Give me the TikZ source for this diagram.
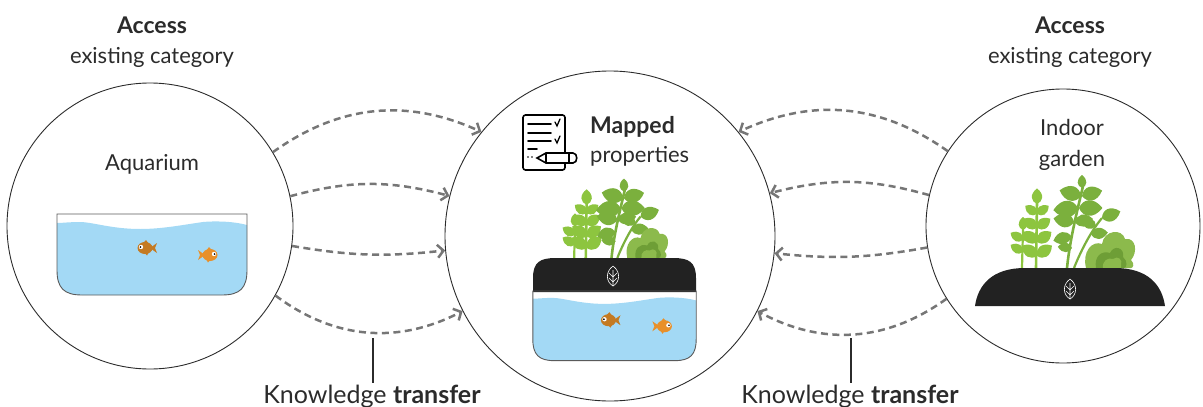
\documentclass[tikz,border=0pt]{standalone}
\usepackage{fontspec}
\setmainfont{Lato}
\usetikzlibrary{arrows.meta}

\definecolor{ink}{HTML}{2B2B2B}
\definecolor{arrowgray}{HTML}{767676}
\definecolor{water}{HTML}{A3D9F5}
\definecolor{tankline}{HTML}{5A5A5A}
\definecolor{soil}{HTML}{222222}
\definecolor{fishA}{HTML}{C47A22}
\definecolor{fishB}{HTML}{E8902A}
\definecolor{herbA}{HTML}{8DC53F}
\definecolor{herbB}{HTML}{7BB03D}
\definecolor{lettuce}{HTML}{8CBA4C}
\definecolor{lettuceD}{HTML}{6E9E36}

\tikzset{
  ring/.style={circle, draw=ink, line width=0.9pt, inner sep=0pt},
  transfer/.style={draw=arrowgray, line width=2.5pt, dash pattern=on 7pt off 4.5pt,
    -{Straight Barb[length=6pt,width=13pt,line width=2.5pt]}},
  pointer/.style={draw=ink, line width=2.6pt},
  icon/.style={draw=black, line width=1.6pt, line cap=round},
  % one pointed leaf, base at the origin, pointing along x
  leaf/.pic={
    \fill[pic actions] (0,0) .. controls (2,5) and (8,6.5) .. (13,0)
      .. controls (8,-6.5) and (2,-5) .. (0,0);
  },
  fish/.pic={
    \fill[pic actions] (0,0) ellipse (7.5 and 6);
    \fill[pic actions] (5,0) -- (12,-5) -- (10,0) -- (12,5) -- cycle;
    \fill[pic actions] (-3,-4) -- (1,-8) -- (4,-4) -- cycle;
    \fill[pic actions] (-1,4) -- (2,7.5) -- (4,4) -- cycle;
    \fill[white] (-4,-1) circle (2.2);
    \fill[black] (-4.6,-1) circle (0.9);
  },
  % glass tank, origin at the middle of the top edge
  tank/.pic={
    \fill[water] (-95,9) -- (-95,56) .. controls (-95,74) and (-88,81) .. (-70,81)
      -- (70,81) .. controls (88,81) and (95,74) .. (95,56) -- (95,11)
      .. controls (80,7) and (62,7) .. (51,8) .. controls (30,11) and (10,15) .. (-12,15)
      .. controls (-40,15) and (-60,8) .. (-72,8) .. controls (-82,8) and (-90,9) .. (-95,9) -- cycle;
    \draw[tankline, line width=0.9pt] (-95,0) -- (-95,56) .. controls (-95,74) and (-88,81) .. (-70,81)
      -- (70,81) .. controls (88,81) and (95,74) .. (95,56) -- (95,0) -- cycle;
    \pic[fill=fishA] at (-7,34) {fish};
    \pic[fill=fishB, xscale=-1] at (58,41) {fish};
  },
  soilmark/.pic={
    \draw[white, line width=0.6pt] (0,-10) .. controls (8,-4) and (7,6) .. (0,10)
      .. controls (-7,6) and (-8,-4) .. (0,-10);
    \draw[white, line width=0.6pt] (0,-6) -- (0,10) (0,6) -- (4,2) (0,6) -- (-4,2)
      (0,1) -- (4,-3) (0,1) -- (-4,-3);
  },
  % herbs standing on the soil, origin at the middle of the soil top
  herbs/.pic={
    % small-leaved herb
    \draw[herbA, line width=2.2pt] (-48,0) -- (-47,-40);
    \draw[herbA, line width=2.6pt] (-34,0) -- (-33,-66);
    \foreach \y/\s in {-12/1.4,-26/1.35,-40/1.25,-54/1.1} {
      \pic[fill=herbA, rotate=145, scale=\s] at (-33,\y) {leaf};
      \pic[fill=herbA, rotate=35, scale=\s] at (-33,\y) {leaf};
    }
    \pic[fill=herbA, rotate=90, scale=1.2] at (-33,-64) {leaf};
    \foreach \y in {-16,-28} {
      \pic[fill=herbA, rotate=150, scale=1.1] at (-47,\y) {leaf};
      \pic[fill=herbA, rotate=30, scale=0.8] at (-47,\y) {leaf};
    }
    \pic[fill=herbA, rotate=90, scale=1.0] at (-47,-38) {leaf};
    % basil
    \draw[herbB, line width=2.6pt] (-3,0) .. controls (0,-30) and (8,-60) .. (13,-82);
    \draw[herbB, line width=2.2pt] (4,0) .. controls (12,-20) and (22,-38) .. (32,-50);
    \foreach \x/\y/\a/\s in {12/-80/90/1.0, 11/-72/165/1.7, 12/-72/15/1.6,
        8/-60/185/1.9, 9/-60/0/1.8, 4/-46/170/1.6, 5/-46/10/1.4, 1/-32/195/1.4,
        32/-50/20/1.5, 26/-42/160/1.2, 21/-34/5/1.3, 2/-20/175/1.1} {
      \pic[fill=herbB, rotate=\a, scale=\s] at (\x,\y) {leaf};
    }
    % lettuce
    \fill[lettuce] (16,0) .. controls (12,-16) and (22,-28) .. (32,-24)
      .. controls (34,-38) and (52,-40) .. (55,-29) .. controls (66,-31) and (68,-16) .. (61,-8)
      .. controls (65,-4) and (63,0) .. (61,0) -- cycle;
    \fill[lettuceD] (26,0) .. controls (24,-11) and (31,-18) .. (40,-15)
      .. controls (44,-24) and (55,-20) .. (53,-11) .. controls (58,-7) and (57,0) .. (54,0) -- cycle;
    \fill[lettuce] (33,0) .. controls (32,-7) and (38,-11) .. (43,-9)
      .. controls (48,-13) and (53,-8) .. (51,-3) -- (51,0) -- cycle;
  }
}

\begin{document}
\begin{tikzpicture}[x=1pt, y=-1pt, font=\fontsize{22}{26}\selectfont, text=ink]
  \useasboundingbox (0,0) rectangle (1203,407);

  % the three categories
  \node[ring, minimum size=286pt] (aquarium) at (150,226) {};
  \node[ring, minimum size=330pt] (mapped) at (610,236) {};
  \node[ring, minimum size=274pt] (garden) at (1063,226) {};

  % headings above the outer circles
  \node[anchor=base, font=\fontsize{23}{26}\selectfont\bfseries] (acc1) at (152,33) {Access};
  \node[anchor=base] (cat1) at (152,63) {existing category};
  \node[anchor=base, font=\fontsize{23}{26}\selectfont\bfseries] (acc2) at (1070,33) {Access};
  \node[anchor=base] (cat2) at (1070,63) {existing category};

  \node[anchor=base] (aqlabel) at (152,170) {Aquarium};
  \node[anchor=base] (gdlabel1) at (1072,135) {Indoor};
  \node[anchor=base] (gdlabel2) at (1072,166) {garden};

  \node[anchor=base west, inner sep=0pt, font=\fontsize{23}{26}\selectfont\bfseries] (mplabel1) at (590,133) {Mapped};
  \node[anchor=base west, inner sep=0pt] (mplabel2) at (590,162) {properties};

  % checklist icon
  \draw[icon, rounded corners=2.5pt] (523,115) rectangle (565,170);
  \draw[icon] (528,124) -- (551,124) (528,133) -- (551,133) (528,141) -- (551,141) (528,149) -- (537,149);
  \draw[icon, line width=1.3pt] (555,122) -- (557,126) -- (560,119);
  \draw[icon, line width=1.3pt] (555,139) -- (557,143) -- (560,136);
  \fill (528,157) circle (0.9) (532,157) circle (0.9);
  \filldraw[icon, fill=white] (537,158) -- (546,153) -- (573,153)
    .. controls (578,153) and (578,163) .. (573,163) -- (546,163) -- cycle;
  \draw[icon, line width=1.2pt] (546,153) -- (546,163) (569,153) -- (569,163);

  % aquarium
  \pic at (152,214) {tank};

  % aquaponic unit: herbs, soil tray and tank
  \pic[scale=0.83] at (614,258) {herbs};
  \fill[soil] (533,292) -- (533,278) .. controls (533,262) and (540,258) .. (556,258)
    -- (673,258) .. controls (689,258) and (696,262) .. (696,278) -- (696,292) -- cycle;
  \pic at (613,276) {soilmark};
  \pic[scale=0.86] at (614.5,291) {tank};

  % indoor garden
  \pic at (1070,268) {herbs};
  \fill[soil] (975,306) .. controls (978,285) and (992,268) .. (1025,268) -- (1115,268)
    .. controls (1148,268) and (1162,285) .. (1165,306) -- cycle;
  \pic at (1070,289) {soilmark};

  % transfer from the aquarium
  \draw[transfer] (aquarium.31) to[bend left=30] (mapped.141);
  \draw[transfer] (aquarium.12) to[bend left=15] (mapped.166);
  \draw[transfer] (aquarium.-8) to[bend right=8] (mapped.185);
  \draw[transfer] (aquarium.-29) to[bend right=32] (mapped.207);

  % transfer from the garden
  \draw[transfer] (garden.147) to[bend right=30] (mapped.39);
  \draw[transfer] (garden.167) to[bend right=15] (mapped.15);
  \draw[transfer] (garden.189) to[bend left=8] (mapped.-6);
  \draw[transfer] (garden.212) to[bend left=32] (mapped.-27);

  % captions
  \node[anchor=base, inner sep=1pt, font=\fontsize{25}{28}\selectfont] (kt1) at (372,403) {Knowledge \textbf{transfer}};
  \node[anchor=base, inner sep=1pt, font=\fontsize{25}{28}\selectfont] (kt2) at (850,403) {Knowledge \textbf{transfer}};
  \coordinate (kt1top) at (373,338);
  \coordinate (kt2top) at (851,338);
  \draw[pointer] (kt1top) -- (kt1.north -| kt1top);
  \draw[pointer] (kt2top) -- (kt2.north -| kt2top);
\end{tikzpicture}
\end{document}
